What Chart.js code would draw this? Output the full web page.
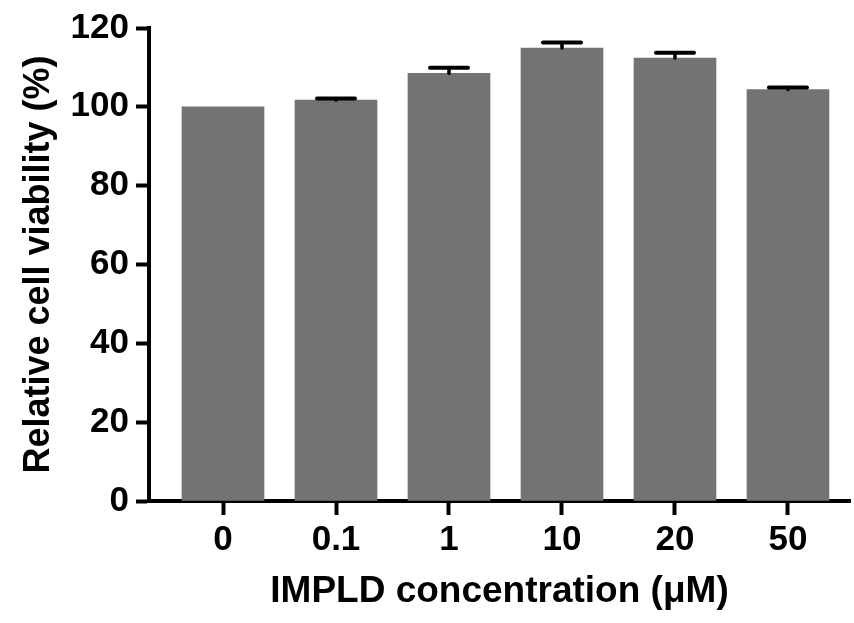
<!DOCTYPE html>
<html>
<head>
<meta charset="utf-8">
<script src="https://cdn.jsdelivr.net/npm/chart.js@4.4.1/dist/chart.umd.min.js"></script>
<style>
  html, body { margin: 0; padding: 0; background: #fff; }
  #wrap { width: 854px; height: 623px; }
</style>
</head>
<body>
<div id="wrap"><canvas id="viability" width="854" height="623"></canvas></div>
<script>
// concentrations (uM) and measured viability
const concLabels = ['0', '0.1', '1', '10', '20', '50'];
const viability  = [100, 101.7, 108.5, 114.9, 112.4, 104.4];
const viabErr    = [0, 0.4, 1.4, 1.4, 1.3, 0.5];
const yTicks     = [0, 20, 40, 60, 80, 100, 120];

const FONT = 'Liberation Sans, Arial, Helvetica, sans-serif';
const BAR_COLOR = '#737373';

// upper-only error bars, like the original figure
const errorBars = {
  id: 'errorBars',
  afterDatasetsDraw(chart){
    const {ctx, scales:{x, y}} = chart;
    ctx.save();
    ctx.strokeStyle = '#000';
    ctx.lineCap = 'round';
    viability.forEach((v, i) => {
      const e = viabErr[i];
      if(!e) return;
      const px = x.getPixelForValue(i);
      const top = y.getPixelForValue(v + e);
      const base = y.getPixelForValue(v);
      ctx.lineWidth = 3.5;
      ctx.beginPath(); ctx.moveTo(px, base); ctx.lineTo(px, top); ctx.stroke();
      ctx.lineWidth = 4;
      ctx.beginPath(); ctx.moveTo(px - 19, top); ctx.lineTo(px + 19, top); ctx.stroke();
    });
    ctx.restore();
  }
};

const ctx = document.getElementById('viability').getContext('2d');
new Chart(ctx, {
  type: 'bar',
  data: {
    datasets: [{
      data: viability.map((v, i) => ({ x: i, y: v })),
      backgroundColor: BAR_COLOR,
      borderWidth: 0,
      barThickness: 82
    }]
  },
  options: {
    responsive: false,
    animation: false,
    layout: { padding: { top: 23, right: 4, bottom: 0, left: 0 } },
    plugins: { legend: { display: false }, tooltip: { enabled: false } },
    scales: {
      x: {
        type: 'linear',
        offset: false,
        min: -0.655,
        max: 5.549,
        afterBuildTicks: s => { s.ticks = concLabels.map((_, i) => ({ value: i })); },
        afterFit: s => { s.height = 122; },
        ticks: {
          callback: v => concLabels[v],
          color: '#000',
          font: { family: FONT, size: 35, weight: 'bold' },
          padding: 4,
          maxRotation: 0
        },
        grid: { offset: false, drawOnChartArea: false, drawTicks: true, tickLength: 14, tickWidth: 4, tickColor: '#000' },
        border: { color: '#000', width: 4 },
        title: {
          display: true,
          text: 'IMPLD concentration (\u03bcM)',
          color: '#000',
          font: { family: FONT, size: 37, weight: 'bold' },
          padding: { top: 0, bottom: 9 }
        }
      },
      y: {
        min: 0,
        max: 120,
        afterBuildTicks: s => { s.ticks = yTicks.map(v => ({ value: v })); },
        afterFit: s => { s.width = 149; },
        ticks: {
          color: '#000',
          font: { family: FONT, size: 35, weight: 'bold' },
          padding: 7
        },
        grid: { drawOnChartArea: false, drawTicks: true, tickLength: 13, tickWidth: 4, tickColor: '#000' },
        border: { color: '#000', width: 4 },
        title: {
          display: true,
          text: 'Relative cell viability (%)',
          color: '#000',
          font: { family: FONT, size: 36, weight: 'bold' },
          padding: { top: 17, bottom: 0 }
        }
      }
    }
  },
  plugins: [errorBars]
});
</script>
</body>
</html>
